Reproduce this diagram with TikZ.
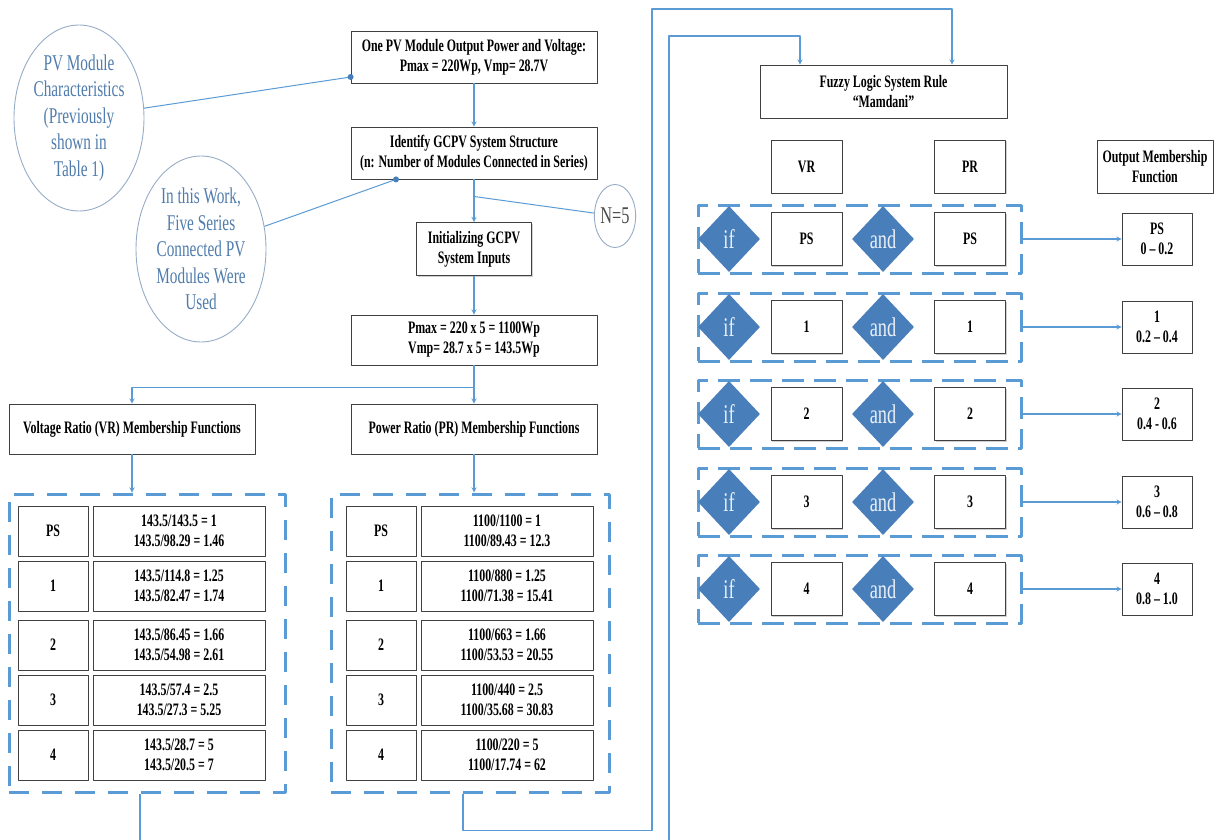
\documentclass[tikz,border=0pt]{standalone}
\usepackage{fontspec}
\setmainfont{Liberation Serif}[FakeStretch=0.68]
\usetikzlibrary{shapes.geometric,shadows,calc}
\definecolor{linkblue}{RGB}{91,155,213}
\definecolor{fillblue}{RGB}{72,126,186}
\definecolor{ovalline}{RGB}{150,172,198}
\definecolor{ovaltext}{RGB}{80,124,172}
\tikzset{
	box/.style={draw=black!75, line width=0.8pt, fill=white, align=center, inner sep=2pt,
		font=\fontsize{17.5}{20}\selectfont\bfseries,
		drop shadow={shadow xshift=1.2pt, shadow yshift=-1.2pt, opacity=0.3, fill=black!60}},
	cell/.style={box, minimum width=71pt, minimum height=53pt},
	tcone/.style={box, minimum width=70pt, minimum height=50pt},
	tctwo/.style={box, minimum width=172pt, minimum height=50pt},
	oval/.style={ellipse, draw=ovalline, line width=0.9pt, text=ovaltext, align=center, inner sep=0pt,
		font=\fontsize{22.5}{26.5}\selectfont},
	cond/.style={diamond, fill=fillblue, text=white!88!fillblue, minimum width=62pt, minimum height=66pt,
		inner sep=0pt, font=\fontsize{27}{30}\selectfont},
	group/.style={draw=linkblue, line width=3pt, dash pattern=on 20pt off 13pt},
	rulebox/.style={draw=linkblue, line width=3pt, dash pattern=on 22pt off 10pt,
		minimum width=323pt, minimum height=68pt},
	link/.style={draw=linkblue, line width=1.3pt}
}
\begin{document}
\begin{tikzpicture}[x=1pt, y=-1pt, >=stealth, line join=round]
	\path[use as bounding box] (0,0) rectangle (1216,840);
	\clip (0,0) rectangle (1216,840);
	% module data and system inputs
	\node[oval, minimum width=130pt, minimum height=186pt] (char) at (79,118) {PV Module\\Characteristics\\(Previously\\shown in\\Table 1)};
	\node[oval, minimum width=130pt, minimum height=186pt] (work) at (201,249) {In this Work,\\Five Series\\Connected PV\\Modules Were\\Used};
	\node[box, minimum width=246pt, minimum height=52pt] (pv) at (474,57) {One PV Module Output Power and Voltage:\\Pmax = 220Wp, Vmp= 28.7V};
	\node[box, minimum width=246pt, minimum height=52pt] (gcpv) at (474,153) {Identify GCPV System Structure\\(n: Number of Modules Connected in Series)};
	\node[box, minimum width=115pt, minimum height=53pt] (init) at (474,249) {Initializing GCPV\\System Inputs};
	\node[oval, minimum width=40pt, minimum height=63pt, text=black!70, font=\fontsize{24}{26}\selectfont] (nfive) at (615,216) {N=5};
	\node[box, minimum width=246pt, minimum height=50pt] (tot) at (474,340) {Pmax = 220 x 5 = 1100Wp\\Vmp= 28.7 x 5 = 143.5Wp};
	\node[box, minimum width=246pt, minimum height=50pt] (vr) at (132,429) {Voltage Ratio (VR) Membership Functions};
	\node[box, minimum width=246pt, minimum height=50pt] (pr) at (474,429) {Power Ratio (PR) Membership Functions};
	% membership tables
	\node[group, minimum width=276pt, minimum height=298pt] (vrbox) at (147,643) {};
	\node[group, minimum width=278pt, minimum height=298pt] (prbox) at (470,643) {};
	\foreach \yy/\lab/\vtxt/\ptxt [count=\k] in {
		531/PS/{143.5/143.5 = 1\\143.5/98.29 = 1.46}/{1100/1100 = 1\\1100/89.43 = 12.3},
		586/1/{143.5/114.8 = 1.25\\143.5/82.47 = 1.74}/{1100/880 = 1.25\\1100/71.38 = 15.41},
		645/2/{143.5/86.45 = 1.66\\143.5/54.98 = 2.61}/{1100/663 = 1.66\\1100/53.53 = 20.55},
		700/3/{143.5/57.4 = 2.5\\143.5/27.3 = 5.25}/{1100/440 = 2.5\\1100/35.68 = 30.83},
		755/4/{143.5/28.7 = 5\\143.5/20.5 = 7}/{1100/220 = 5\\1100/17.74 = 62}}{
		\node[tcone] (vl\k) at (53,\yy) {\lab};
		\node[tctwo] (vv\k) at (179,\yy) {\vtxt};
		\node[tcone] (pl\k) at (381,\yy) {\lab};
		\node[tctwo] (pv\k) at (507,\yy) {\ptxt};
	}
	% fuzzy rules
	\node[box, minimum width=247pt, minimum height=53pt] (fuzzy) at (883.5,91.5) {Fuzzy Logic System Rule\\“Mamdani”};
	\node[cell] (vrh) at (806.5,166.5) {VR};
	\node[cell] (prh) at (970,166.5) {PR};
	\node[box, minimum width=116pt, minimum height=53pt] (outh) at (1155,166.5) {Output Membership\\Function};
	\foreach \yy/\lab/\rng [count=\k] in {239/PS/0 -- 0.2, 327/1/0.2 -- 0.4, 414/2/0.4 - 0.6, 502/3/0.6 -- 0.8, 589/4/0.8 -- 1.0}{
		\node[rulebox] (r\k) at (859.5,\yy) {};
		\node[cond] (if\k) at (729,\yy) {if};
		\node[cell] (rv\k) at (806.5,\yy) {\lab};
		\node[cond] (and\k) at (883,\yy) {and};
		\node[cell] (rp\k) at (970,\yy) {\lab};
		\node[box, minimum width=70pt, minimum height=52pt] (o\k) at (1157,\yy) {\lab\\\rng};
		\draw[link,->] (r\k.east) -- (o\k.west);
	}
	% connectors
	\coordinate (d1) at ([yshift=-20pt]pv.west);
	\coordinate (d2) at ([xshift=-78pt]gcpv.south);
	\draw[link, line width=1pt] (char) -- (d1) (work) -- (d2);
	\fill[fillblue] (d1) circle (3pt) (d2) circle (3pt);
	\draw[link,->] (pv) -- (gcpv);
	\draw[link,->] (gcpv) -- (init);
	\coordinate (nj) at ($(gcpv.south)!0.4!(init.north)$);
	\draw[link, line width=1pt] (nj) -- (nfive);
	\draw[link,->] (init) -- (tot);
	\draw[link,->] (tot.south) -- ++(0,22) -| (vr.north);
	\draw[link,->] (tot) -- (pr);
	\draw[link,->] (vr.south) -- (vr.south |- vrbox.north);
	\draw[link,->] (pr.south) -- (pr.south |- prbox.north);
	\draw[link,->] ([xshift=-7pt]vrbox.south) -- ++(0,70) -| (669,36) -| ([xshift=-83.5pt]fuzzy.north);
	\draw[link,->] ([xshift=-7pt]prbox.south) -- ++(0,37) -| (652,9) -| ([xshift=68.5pt]fuzzy.north);
\end{tikzpicture}
\end{document}
